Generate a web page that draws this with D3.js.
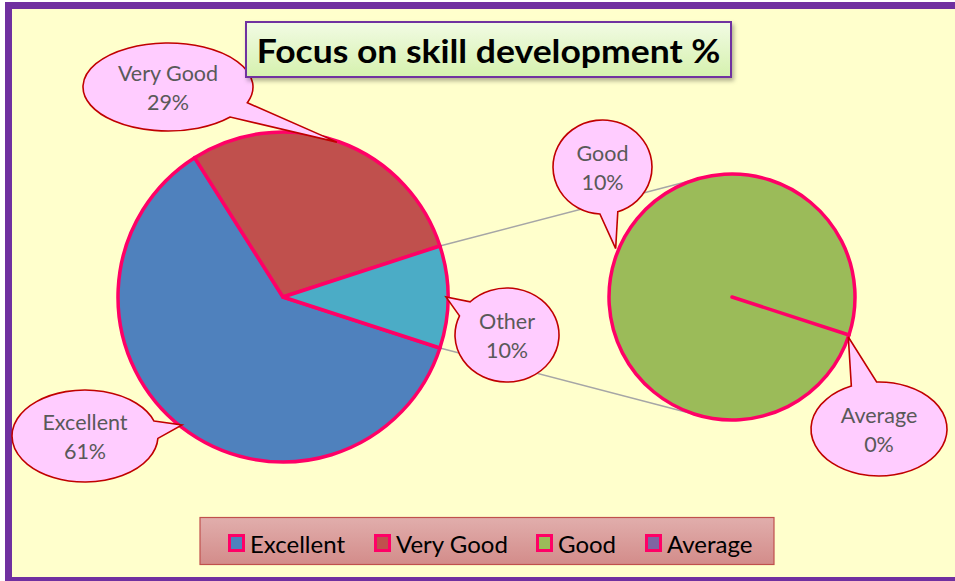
<!DOCTYPE html>
<html><head><meta charset="utf-8">
<script src="https://cdn.jsdelivr.net/npm/d3@7"></script>
<style>html,body{margin:0;padding:0;background:#fff;} svg{display:block;}</style>
</head><body>
<script>
// ---- data ----
const title = "Focus on skill development %";
const categories = ["Excellent", "Very Good", "Good", "Average"];
const values = [61, 29, 10, 0];
const colors = ["#4F81BD", "#C0504D", "#9BBB59", "#8064A2"];
const secondaryCount = 2;           // last N categories go in the secondary pie
const otherLabel = "Other";
const otherColor = "#4BACC6";

// ---- layout ----
const W = 955, H = 581;
const svg = d3.select("body").append("svg").attr("width", W).attr("height", H);
const defs = svg.append("defs");

const tg = defs.append("linearGradient").attr("id", "titleGrad").attr("x1", 0).attr("y1", 0).attr("x2", 0).attr("y2", 1);
tg.append("stop").attr("offset", "0%").attr("stop-color", "#F2FBE4");
tg.append("stop").attr("offset", "100%").attr("stop-color", "#D5F1AE");
const lg = defs.append("linearGradient").attr("id", "legGrad").attr("x1", 0).attr("y1", 0).attr("x2", 0).attr("y2", 1);
lg.append("stop").attr("offset", "0%").attr("stop-color", "#E1AEAC");
lg.append("stop").attr("offset", "100%").attr("stop-color", "#D38C8A");
const sh = defs.append("filter").attr("id", "shadow").attr("x", "-10%").attr("y", "-10%").attr("width", "130%").attr("height", "140%");
sh.append("feDropShadow").attr("dx", 2).attr("dy", 3).attr("stdDeviation", 2).attr("flood-color", "#000").attr("flood-opacity", 0.3);

// chart area + frame
svg.append("rect").attr("x", 8.5).attr("y", 5.5).attr("width", 1000).attr("height", 575)
  .attr("fill", "#FFFFCC").attr("stroke", "#7030A0").attr("stroke-width", 7);

// ---- pies ----
const mainC = [283, 297], mainR = 165;
const secC = [732, 297], secR = 123;
const nMain = categories.length - secondaryCount;
const mainData = categories.slice(0, nMain).map((c, i) => ({ name: c, value: values[i], color: colors[i] }));
const secData = categories.slice(nMain).map((c, i) => ({ name: c, value: values[nMain + i], color: colors[nMain + i] }));
const otherValue = d3.sum(secData, d => d.value);
mainData.push({ name: otherLabel, value: otherValue, color: otherColor });
const total = d3.sum(mainData, d => d.value);

// Other slice is centred on 3 o'clock
const start = Math.PI / 2 + Math.PI * (otherValue / total);
const mainPie = d3.pie().sort(null).value(d => d.value).startAngle(start).endAngle(start + 2 * Math.PI);
const secPie = d3.pie().sort(null).value(d => d.value).startAngle(start).endAngle(start + 2 * Math.PI);
const mainArc = d3.arc().innerRadius(0).outerRadius(mainR);
const secArc = d3.arc().innerRadius(0).outerRadius(secR);
const mainArcs = mainPie(mainData);
const secArcs = secPie(secData);

const pol = (c, r, a) => [c[0] + r * Math.sin(a), c[1] - r * Math.cos(a)];
const deg = Math.PI / 180;

// connector lines
const oth = mainArcs[mainArcs.length - 1];
const conn = [
  [pol(mainC, mainR, oth.startAngle), pol(secC, secR, -16.5 * deg)],
  [pol(mainC, mainR, oth.endAngle), pol(secC, secR, 196.5 * deg)]
];
svg.append("g").selectAll("line").data(conn).join("line")
  .attr("x1", d => d[0][0]).attr("y1", d => d[0][1]).attr("x2", d => d[1][0]).attr("y2", d => d[1][1])
  .attr("stroke", "#A6A6A6").attr("stroke-width", 1.5);

svg.append("g").attr("transform", `translate(${mainC})`).selectAll("path").data(mainArcs).join("path")
  .attr("d", mainArc).attr("fill", d => d.data.color).attr("stroke", "#FF0066").attr("stroke-width", 3.5).attr("stroke-linejoin", "round");
svg.append("g").attr("transform", `translate(${secC})`).selectAll("path").data(secArcs).join("path")
  .attr("d", secArc).attr("fill", d => d.data.color).attr("stroke", "#FF0066").attr("stroke-width", 3.5).attr("stroke-linejoin", "round");

// ---- callouts (tips in pie-relative polar coords) ----
const fmt = v => Math.round(v / total * 100) + "%";
const calloutSpec = [
  { name: "Very Good", pie: "main", cx: 168, cy: 87, rx: 85, ry: 44, a1: 21, a2: 43, tipA: 19.2, tipR: 164 },
  { name: "Excellent", pie: "main", cx: 85, cy: 436, rx: 73, ry: 46, a1: -19, a2: 3, tipA: 218.3, tipR: 163 },
  { name: otherLabel, pie: "main", cx: 507, cy: 335, rx: 52, ry: 47, a1: 204, a2: 225, tipA: 90, tipR: 163 },
  { name: "Good", pie: "sec", cx: 602.5, cy: 167, rx: 49.5, ry: 47, a1: 72, a2: 93, tipA: 292.6, tipR: 126 },
  { name: "Average", pie: "sec", cx: 879, cy: 429, rx: 68, ry: 47, a1: 246, a2: 268, tipA: 109, tipR: 123 }
];
const valueOf = name => {
  const i = categories.indexOf(name);
  return i >= 0 ? values[i] : otherValue;
};
const cg = svg.append("g");
calloutSpec.forEach(s => {
  const ep = a => [s.cx + s.rx * Math.cos(a * deg), s.cy + s.ry * Math.sin(a * deg)];
  const tip = pol(s.pie === "main" ? mainC : secC, s.tipR, s.tipA * deg);
  const p1 = ep(s.a1), p2 = ep(s.a2);
  const d = `M${p1}L${tip}L${p2}A${s.rx},${s.ry} 0 1 1 ${p1}Z`;
  cg.append("path").attr("d", d).attr("fill", "#FFCCFF").attr("stroke", "#C00000").attr("stroke-width", 1.6).attr("stroke-linejoin", "miter");
  const t = cg.append("text").attr("text-anchor", "middle").attr("fill", "#595959")
    .style("font-family", "Lato, 'Open Sans', sans-serif").style("font-size", "21.5px");
  t.append("tspan").attr("x", s.cx).attr("y", s.cy - 14.5).attr("dominant-baseline", "central").text(s.name);
  t.append("tspan").attr("x", s.cx).attr("y", s.cy + 14.5).attr("dominant-baseline", "central").text(fmt(valueOf(s.name)));
});

// ---- title ----
svg.append("rect").attr("x", 246).attr("y", 22).attr("width", 485).attr("height", 55)
  .attr("fill", "url(#titleGrad)").attr("stroke", "#7030A0").attr("stroke-width", 2).attr("filter", "url(#shadow)");
const titleG = svg.append("g").attr("transform", "translate(488.5,50)");
const tt = titleG.append("text").attr("x", 0).attr("y", 0).attr("text-anchor", "middle").attr("dominant-baseline", "central")
  .attr("fill", "#000").style("font-family", "Lato, 'Open Sans', sans-serif").style("font-weight", "bold").style("font-size", "33px").text(title);
const tw = tt.node().getComputedTextLength();
tt.attr("transform", `scale(${464 / tw},1)`);

// ---- legend ----
svg.append("rect").attr("x", 200).attr("y", 517.5).attr("width", 574).attr("height", 47)
  .attr("fill", "url(#legGrad)").attr("stroke", "#C0504D").attr("stroke-width", 1.2);
const legX = [228, 374, 536, 645];
const lgG = svg.append("g");
categories.forEach((c, i) => {
  lgG.append("rect").attr("x", legX[i] + 1.5).attr("y", 535.5).attr("width", 14).attr("height", 15)
    .attr("fill", colors[i]).attr("stroke", "#FF0066").attr("stroke-width", 3);
  lgG.append("text").attr("x", legX[i] + 22).attr("y", 543).attr("dominant-baseline", "central")
    .style("font-family", "Lato, 'Open Sans', sans-serif").style("font-size", "24px").attr("fill", "#000").text(c);
});
</script>
</body></html>
